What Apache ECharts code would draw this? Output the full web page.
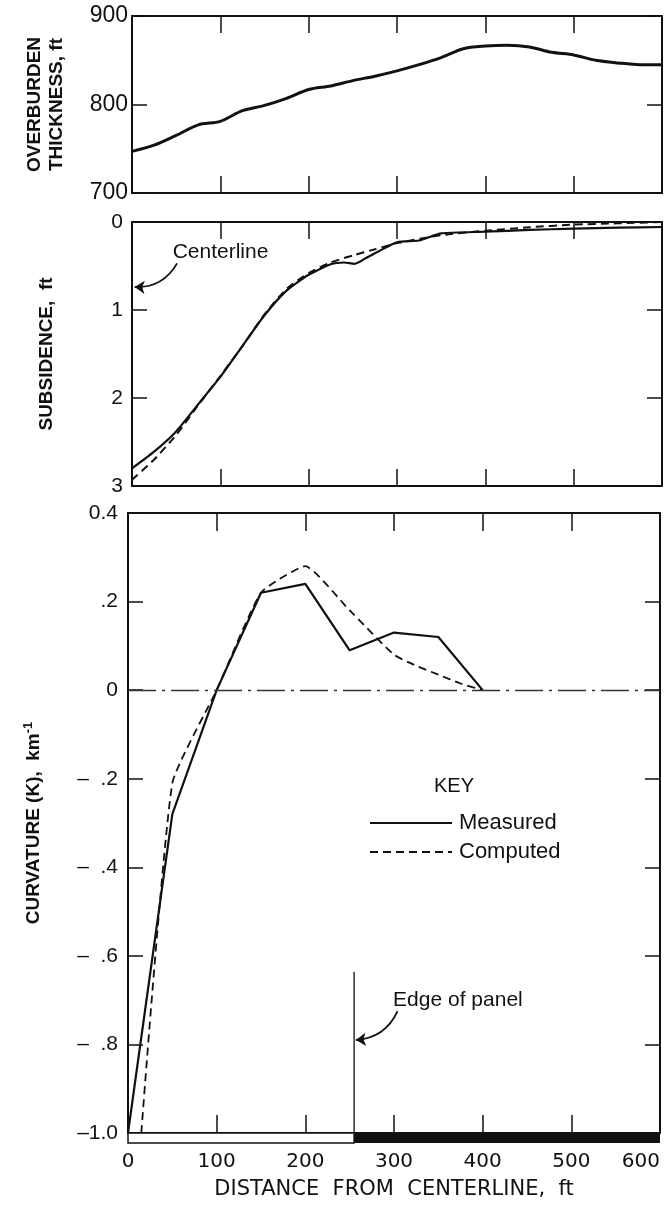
<!DOCTYPE html>
<html>
<head>
<meta charset="utf-8">
<script src="https://cdn.jsdelivr.net/npm/echarts@6/dist/echarts.min.js"></script>
<style>
  html, body { margin: 0; padding: 0; background: #fff; }
  #chart { width: 670px; height: 1207px; }
</style>
</head>
<body>
<div id="chart"></div>
<script>
// ---------------- DATA ----------------
const distTicks = [0, 100, 200, 300, 400, 500, 600];

// Overburden thickness, ft
const overDist = [0, 25, 50, 75, 100, 125, 150, 175, 200, 225, 250, 275, 300, 325, 350, 375, 400, 425, 450, 475, 500, 525, 550, 575, 600];
const overThick = [747, 754, 765, 777, 781, 793, 799, 807, 817, 821, 827, 832, 838, 845, 853, 863, 866, 867, 865, 859, 856, 850, 847, 845, 845];

// Subsidence, ft
const subMeasDist = [0, 25, 50, 75, 100, 125, 150, 175, 200, 225, 240, 252, 265, 300, 325, 350, 400, 450, 500, 550, 600];
const subMeas = [2.80, 2.61, 2.38, 2.07, 1.76, 1.41, 1.06, 0.78, 0.60, 0.48, 0.46, 0.475, 0.41, 0.23, 0.21, 0.13, 0.11, 0.09, 0.075, 0.065, 0.057];
const subCompDist = [0, 25, 50, 75, 100, 125, 150, 175, 200, 225, 250, 275, 300, 350, 400, 450, 500, 550, 600];
const subComp = [2.93, 2.70, 2.42, 2.08, 1.75, 1.41, 1.05, 0.76, 0.58, 0.46, 0.38, 0.31, 0.24, 0.15, 0.10, 0.06, 0.03, 0.015, 0.0];

// Curvature, 1/km
const curvMeasDist = [0, 50, 100, 150, 200, 250, 300, 350, 400];
const curvMeas = [-1.0, -0.28, 0, 0.22, 0.24, 0.09, 0.13, 0.12, 0];
const curvCompDist = [15, 50, 100, 150, 200, 250, 300, 325, 350, 375, 400];
const curvComp = [-1.0, -0.21, 0, 0.22, 0.28, 0.18, 0.08, 0.055, 0.035, 0.015, 0];

// Tick labels
const overTicks = [700, 800, 900];
const subTicks = [0, 1, 2, 3];
const curvTicks = [0.4, 0.2, 0, -0.2, -0.4, -0.6, -0.8, -1.0];
const curvTickLabels = ['0.4', '.2', '0', '\u2013  .2', '\u2013  .4', '\u2013  .6', '\u2013  .8', '\u20131.0'];

// Annotations
const panelEdge = 255;
const edgeLineTop = -0.636;
const centerlineText = [46, 0.34];
const centerlineArrow = [[51, 0.47], [3, 0.74]];
const edgeText = [299, -0.70];
const edgeArrow = [[304, -0.725], [257, -0.79]];

// ---------------- CHART ----------------
const zip = (xs, ys) => xs.map((x, i) => [x, ys[i]]);
const INK = '#111';
const SANS = 'Liberation Sans';
const ROUND = 'DejaVu Sans';

function xAx(grid, pos, extra) {
  return Object.assign({
    type: 'value', gridIndex: grid, position: pos, min: 0, max: 600, interval: 100,
    axisLine: { show: true, onZero: false, lineStyle: { color: INK, width: 2 } },
    axisTick: { show: true, inside: true, length: 17, lineStyle: { color: INK, width: 1.5 } },
    axisLabel: { show: false }, splitLine: { show: false }
  }, extra || {});
}
function yAx(grid, pos, min, max, interval, extra) {
  return Object.assign({
    type: 'value', gridIndex: grid, position: pos, min: min, max: max, interval: interval,
    axisLine: { show: true, onZero: false, lineStyle: { color: INK, width: 2 } },
    axisTick: { show: true, inside: true, length: 15, lineStyle: { color: INK, width: 1.5 } },
    axisLabel: { show: false }, splitLine: { show: false }
  }, extra || {});
}

const option = {
  animation: false,
  backgroundColor: '#fff',
  grid: [
    { left: 132, top: 16, width: 530, height: 177 },
    { left: 132, top: 222, width: 530, height: 264 },
    { left: 128, top: 513, width: 532, height: 620 },
    { left: 128, top: 1133, width: 532, height: 10 }
  ],
  xAxis: [
    xAx(0, 'bottom'), xAx(0, 'top'),
    xAx(1, 'bottom'), xAx(1, 'top'),
    xAx(2, 'bottom', {
      axisTick: { show: true, inside: true, length: 18, lineStyle: { color: INK, width: 1.5 } },
      axisLabel: {
        show: true, margin: 19, fontSize: 20, fontFamily: ROUND, color: INK,
        alignMaxLabel: 'right',
        formatter: v => distTicks.includes(v) ? String(v) : ''
      },
      name: 'DISTANCE  FROM  CENTERLINE,  ft', nameLocation: 'middle', nameGap: 46,
      nameTextStyle: { fontSize: 21, fontFamily: ROUND, color: INK }
    }),
    xAx(2, 'top', { axisTick: { show: true, inside: true, length: 18, lineStyle: { color: INK, width: 1.5 } } }),
    { type: 'value', gridIndex: 3, min: 0, max: 600, show: false }
  ],
  yAxis: [
    yAx(0, 'left', 700, 900, 100, {
      axisLabel: { show: true, margin: 4, fontSize: 23, fontFamily: SANS, color: INK,
        formatter: v => overTicks.includes(v) ? String(v) : '' },
      name: 'OVERBURDEN\nTHICKNESS, ft', nameLocation: 'middle', nameRotate: 90, nameGap: 64,
      nameTextStyle: { fontSize: 19, fontWeight: 'bold', fontFamily: SANS, color: INK, lineHeight: 22 }
    }),
    yAx(0, 'right', 700, 900, 100),
    yAx(1, 'left', 0, 3, 1, {
      inverse: true,
      axisLabel: { show: true, margin: 9, fontSize: 21, fontFamily: SANS, color: INK,
        formatter: v => subTicks.includes(v) ? String(v) : '' },
      name: 'SUBSIDENCE,  ft', nameLocation: 'middle', nameRotate: 90, nameGap: 76,
      nameTextStyle: { fontSize: 19, fontWeight: 'bold', fontFamily: SANS, color: INK }
    }),
    yAx(1, 'right', 0, 3, 1, { inverse: true }),
    yAx(2, 'left', -1.0, 0.4, 0.2, {
      axisLabel: { show: true, margin: 10, fontSize: 21, fontFamily: SANS, color: INK,
        formatter: v => {
          const i = curvTicks.findIndex(t => Math.abs(t - v) < 1e-6);
          return i >= 0 ? curvTickLabels[i] : '';
        } },
      name: '{a|CURVATURE (K),  km}{s|-1}', nameLocation: 'middle', nameRotate: 90, nameGap: 82,
      nameTextStyle: {
        rich: {
          a: { fontSize: 19, fontWeight: 'bold', fontFamily: SANS, color: INK, lineHeight: 24 },
          s: { fontSize: 13, fontWeight: 'bold', fontFamily: SANS, color: INK, verticalAlign: 'top', lineHeight: 24 }
        }
      }
    }),
    yAx(2, 'right', -1.0, 0.4, 0.2),
    { type: 'value', gridIndex: 3, min: 0, max: 1, show: false }
  ],
  legend: {
    data: ['Measured', 'Computed'], orient: 'vertical', left: 364, top: 807,
    itemWidth: 82, itemHeight: 14, itemGap: 7, selectedMode: false,
    itemStyle: { opacity: 0 },
    textStyle: { fontSize: 22, fontFamily: SANS, color: INK, padding: [0, 0, 0, 2] }
  },
  graphic: [
    { type: 'text', left: 434, top: 776,
      style: { text: 'KEY', fontSize: 20, fontFamily: SANS, fill: INK } }
  ],
  series: [
    { type: 'line', name: 'Overburden', xAxisIndex: 0, yAxisIndex: 0, data: zip(overDist, overThick),
      symbol: 'none', smooth: 0.3, lineStyle: { color: INK, width: 3 } },
    { type: 'line', name: 'Measured', xAxisIndex: 2, yAxisIndex: 2, data: zip(subMeasDist, subMeas),
      symbol: 'none', smooth: 0.2, lineStyle: { color: INK, width: 2.2 }, itemStyle: { color: INK } },
    { type: 'line', name: 'Computed', xAxisIndex: 2, yAxisIndex: 2, data: zip(subCompDist, subComp),
      symbol: 'none', smooth: 0.2, lineStyle: { color: INK, width: 2, type: [8, 5] }, itemStyle: { color: INK } },
    { type: 'line', name: 'Measured', xAxisIndex: 4, yAxisIndex: 4, data: zip(curvMeasDist, curvMeas),
      symbol: 'none', lineStyle: { color: INK, width: 2.2 }, itemStyle: { color: INK },
      markLine: { silent: true, symbol: 'none', label: { show: false },
        lineStyle: { color: '#333', width: 1.4, type: [28, 6, 3, 6] },
        data: [{ yAxis: 0 }] } },
    { type: 'line', name: 'Computed', xAxisIndex: 4, yAxisIndex: 4, data: zip(curvCompDist, curvComp),
      symbol: 'none', smooth: 0.15, lineStyle: { color: INK, width: 1.8, type: [8, 5] }, itemStyle: { color: INK } },
    { type: 'line', name: 'Edge of panel line', xAxisIndex: 4, yAxisIndex: 4,
      data: [[panelEdge, edgeLineTop], [panelEdge, -1.0]], symbol: 'none',
      lineStyle: { color: INK, width: 1.3 } },
    // annotation texts
    { type: 'scatter', name: 'centerline label', xAxisIndex: 2, yAxisIndex: 2, data: [centerlineText],
      symbolSize: 0, silent: true, itemStyle: { opacity: 1 },
      label: { show: true, position: 'right', distance: 0, formatter: 'Centerline',
        fontSize: 21, fontFamily: SANS, color: INK, opacity: 1 } },
    { type: 'scatter', name: 'edge label', xAxisIndex: 4, yAxisIndex: 4, data: [edgeText],
      symbolSize: 0, silent: true, itemStyle: { opacity: 1 },
      label: { show: true, position: 'right', distance: 0, formatter: 'Edge of panel',
        fontSize: 21, fontFamily: SANS, color: INK, opacity: 1 } },
    // arrows
    { type: 'lines', coordinateSystem: 'cartesian2d', xAxisIndex: 2, yAxisIndex: 2, silent: true,
      symbol: ['none', 'arrow'], symbolSize: 10,
      lineStyle: { color: INK, width: 1.8, curveness: 0.3, opacity: 1 },
      data: [{ coords: centerlineArrow }] },
    { type: 'lines', coordinateSystem: 'cartesian2d', xAxisIndex: 4, yAxisIndex: 4, silent: true,
      symbol: ['none', 'arrow'], symbolSize: 10,
      lineStyle: { color: INK, width: 1.8, curveness: 0.3, opacity: 1 },
      data: [{ coords: edgeArrow }] },
    // panel strip below the axis
    { type: 'line', name: 'strip', xAxisIndex: 6, yAxisIndex: 6, data: [[0, 0.5], [600, 0.5]],
      symbol: 'none', lineStyle: { opacity: 0 }, silent: true,
      markArea: { silent: true, data: [
        [{ xAxis: 0, itemStyle: { color: '#fff', borderColor: INK, borderWidth: 1.5, opacity: 1 } }, { xAxis: panelEdge }],
        [{ xAxis: panelEdge, itemStyle: { color: INK, opacity: 1 } }, { xAxis: 600 }]
      ] } }
  ]
};

const chart = echarts.init(document.getElementById('chart'), null, { renderer: 'canvas' });
chart.setOption(option);
</script>
</body>
</html>
